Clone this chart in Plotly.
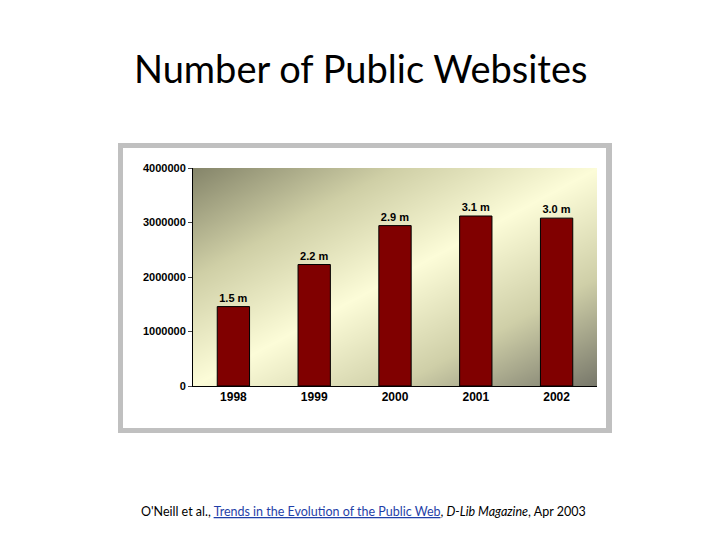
import plotly.graph_objects as go

years = ["1998", "1999", "2000", "2001", "2002"]
sites = [1457000, 2229000, 2943000, 3119000, 3080000]
labels = ["1.5 m", "2.2 m", "2.9 m", "3.1 m", "3.0 m"]

O = 8  # page body offset
L, R, T, B = 193 - O, 597 - O, 168 - O, 386 - O
W, H = 720, 540
def px(x): return (x - O - L) / (R - L)
def py(y): return (B - (y - O)) / (B - T)

n = 30
grid = [i / (n - 1) for i in range(n)]
z = [[(gx + (1 - gy)) / 2 for gx in grid] for gy in grid]

fig = go.Figure()
fig.add_trace(go.Heatmap(x=grid, y=grid, z=z, zsmooth="best", showscale=False, hoverinfo="skip",
    colorscale=[[0, "#85856a"], [0.25, "#cfcfa6"], [0.5, "#fcfcd8"], [0.75, "#cfcfa8"], [1, "#77776a"]],
    xaxis="x", yaxis="y"))
fig.add_trace(go.Bar(x=years, y=sites, text=labels, textposition="outside", width=0.4,
    marker=dict(color="#800000", line=dict(color="#000000", width=1)),
    textfont=dict(family="Liberation Sans", size=11, color="#000", weight="bold"), cliponaxis=False,
    xaxis="x2", yaxis="y2"))

fig.update_layout(
    width=W, height=H, margin=dict(l=L, r=W - R, t=T, b=H - B),
    paper_bgcolor="white", plot_bgcolor="rgba(0,0,0,0)", showlegend=False,
    xaxis=dict(range=[0, 1], visible=False),
    yaxis=dict(range=[0, 1], visible=False),
    xaxis2=dict(overlaying="x", showline=True, linecolor="#000", ticks="",
                tickfont=dict(family="Liberation Sans", size=12, color="#000", weight="bold")),
    yaxis2=dict(overlaying="y", range=[0, 4000000], dtick=1000000, showgrid=False, showline=True,
                linecolor="#000", ticks="outside", ticklen=4, tickformat="d", zeroline=False,
                tickfont=dict(family="Liberation Sans", size=11, color="#000", weight="bold")),
    font=dict(family="Liberation Sans"),
    shapes=[
        dict(type="rect", xref="paper", yref="paper", x0=px(118), x1=px(612), y0=py(433), y1=py(143),
             fillcolor="#c0c0c0", line=dict(width=0), layer="below"),
        dict(type="rect", xref="paper", yref="paper", x0=px(123), x1=px(606), y0=py(428), y1=py(148),
             fillcolor="white", line=dict(width=0), layer="below"),
    ],
    annotations=[
        dict(text="Number of Public Websites", xref="paper", yref="paper", x=px(360), y=py(68),
             xanchor="center", yanchor="middle",
             showarrow=False, font=dict(family="Lato", size=38, color="#000")),
        dict(text="O'Neill et al., <span style='color:#1f3fa8'><u>Trends in the Evolution of the Public Web</u></span>, <i>D-Lib Magazine</i>, Apr 2003",
             xref="paper", yref="paper", x=px(363), y=py(511), xanchor="center", yanchor="middle",
             showarrow=False, font=dict(family="Lato", size=12.5, color="#000")),
    ],
)
fig.write_html("out.html")
